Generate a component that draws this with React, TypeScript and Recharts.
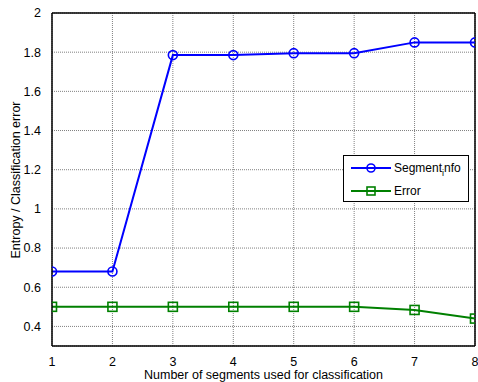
import React from 'react';
import { LineChart, Line, XAxis, YAxis, CartesianGrid, ReferenceLine, Label } from 'recharts';

const segments = [1, 2, 3, 4, 5, 6, 7, 8];
const segmentInfo = [0.68, 0.68, 1.785, 1.785, 1.795, 1.795, 1.85, 1.85];
const errorValues = [0.5, 0.5, 0.5, 0.5, 0.5, 0.5, 0.484, 0.44];
const xTicks = [1, 2, 3, 4, 5, 6, 7, 8];
const yTicks = [0.4, 0.6, 0.8, 1, 1.2, 1.4, 1.6, 1.8, 2];

const data = segments.map((s, i) => ({ seg: s, info: segmentInfo[i], err: errorValues[i] }));

const FONT = '"Liberation Sans", Arial, sans-serif';
const BLUE = '#0000ff';
const GREEN = '#008000';
const FS = 12.5;

const EmptyTick = () => <g />;

const CircleDot = (props: any) => {
  const { cx, cy } = props;
  if (cx == null || cy == null) return null;
  return <circle cx={cx} cy={cy} r={4.5} fill="none" stroke={BLUE} strokeWidth={1.6} />;
};

const SquareDot = (props: any) => {
  const { cx, cy } = props;
  if (cx == null || cy == null) return null;
  return <rect x={cx - 4.5} y={cy - 4.5} width={9} height={9} fill="none" stroke={GREEN} strokeWidth={1.6} />;
};

const LegendBox = () => (
  <div
    style={{
      position: 'absolute',
      left: 343,
      top: 155,
      width: 126,
      height: 47,
      border: '1px solid #000',
      background: '#fff',
      boxSizing: 'border-box',
    }}
  >
    <svg width={124} height={45} style={{ display: 'block' }}>
      <line x1={7} y1={12} x2={47} y2={12} stroke={BLUE} strokeWidth={2} />
      <circle cx={27} cy={12} r={4} fill="none" stroke={BLUE} strokeWidth={1.6} />
      <text x={50} y={16} fontFamily={FONT} fontSize={12} fill="#000">
        Segment<tspan dy={4} fontSize={9}>i</tspan><tspan dy={-4}>nfo</tspan>
      </text>
      <line x1={7} y1={35} x2={47} y2={35} stroke={GREEN} strokeWidth={2} />
      <rect x={23} y={31} width={8} height={8} fill="none" stroke={GREEN} strokeWidth={1.6} />
      <text x={50} y={39} fontFamily={FONT} fontSize={12} fill="#000">Error</text>
    </svg>
  </div>
);

export default function App() {
  return (
    <div style={{ position: 'absolute', left: 0, top: 0, width: 478, height: 382, background: '#fff' }}>
      <LineChart width={478} height={382} data={data} margin={{ top: 13, right: 3, bottom: 0, left: 0 }}>
        <CartesianGrid stroke="#808080" strokeDasharray="1 1" strokeWidth={1} />
        <XAxis
          xAxisId="bticks"
          type="number"
          domain={[1, 8]}
          ticks={xTicks}
          orientation="bottom"
          mirror
          height={0}
          tickSize={3}
          axisLine={false}
          tickLine={{ stroke: '#000' }}
          tick={<EmptyTick />}
        />
        <XAxis
          dataKey="seg"
          type="number"
          domain={[1, 8]}
          ticks={xTicks}
          allowDataOverflow
          height={36}
          tickLine={false}
          tickMargin={5}
          axisLine={{ stroke: '#000', strokeWidth: 1.5 }}
          tick={{ fill: '#000', fontSize: FS, fontFamily: FONT }}
        >
          <Label
            value="Number of segments used for classification"
            position="insideBottom"
            offset={3}
            style={{ fill: '#000', fontSize: FS, fontFamily: FONT }}
          />
        </XAxis>
        <XAxis
          xAxisId="tticks"
          type="number"
          domain={[1, 8]}
          ticks={xTicks}
          orientation="top"
          mirror
          height={0}
          tickSize={3}
          axisLine={false}
          tickLine={{ stroke: '#000' }}
          tick={<EmptyTick />}
        />
        <YAxis
          yAxisId="lticks"
          type="number"
          domain={[0.3, 2]}
          ticks={yTicks}
          orientation="left"
          mirror
          width={0}
          tickSize={3}
          axisLine={false}
          tickLine={{ stroke: '#000' }}
          tick={<EmptyTick />}
        />
        <YAxis
          type="number"
          domain={[0.3, 2]}
          ticks={yTicks}
          allowDataOverflow
          width={52}
          tickLine={false}
          tickMargin={5}
          axisLine={{ stroke: '#000', strokeWidth: 1.5 }}
          tick={{ fill: '#000', fontSize: FS, fontFamily: FONT }}
        >
          <Label
            content={() => (
              <text
                x={20}
                y={180}
                transform="rotate(-90 20 180)"
                textAnchor="middle"
                fontFamily={FONT}
                fontSize={FS}
                fill="#000"
              >
                Entropy / Classification error
              </text>
            )}
          />
        </YAxis>
        <YAxis
          yAxisId="rticks"
          type="number"
          domain={[0.3, 2]}
          ticks={yTicks}
          orientation="right"
          mirror
          width={0}
          tickSize={3}
          axisLine={false}
          tickLine={{ stroke: '#000' }}
          tick={<EmptyTick />}
        />
        <ReferenceLine y={2} stroke="#000" strokeWidth={1.5} />
        <ReferenceLine x={8} stroke="#000" strokeWidth={1.5} />
        <Line
          dataKey="info"
          stroke={BLUE}
          strokeWidth={2}
          dot={<CircleDot />}
          activeDot={false}
          isAnimationActive={false}
        />
        <Line
          dataKey="err"
          stroke={GREEN}
          strokeWidth={2}
          dot={<SquareDot />}
          activeDot={false}
          isAnimationActive={false}
        />
      </LineChart>
      <LegendBox />
    </div>
  );
}
